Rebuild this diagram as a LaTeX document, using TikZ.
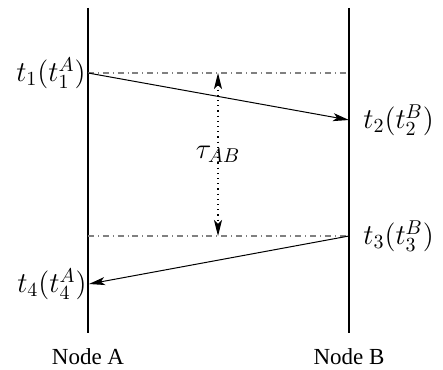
\documentclass[tikz,border=0pt]{standalone}
\usepackage[no-math]{fontspec}
\setmainfont{Liberation Serif}
\usetikzlibrary{arrows.meta,positioning}

\begin{document}
\begin{tikzpicture}[
  x=0.5pt, y=0.5pt,
  lifeline/.style={line width=0.9pt},
  msg/.style={-{Stealth[length=8pt,width=4pt,inset=2pt]}, line width=0.5pt},
  sync/.style={dash dot, gray, line width=0.6pt},
  gap/.style={{Stealth[length=8pt,width=4pt,inset=2pt]}-{Stealth[length=8pt,width=4pt,inset=2pt]},
              dotted, line width=0.6pt},
  stamp/.style={font=\Large, inner sep=1pt},
  host/.style={font=\fontsize{11.5}{13}\selectfont, inner sep=1pt}
]
\useasboundingbox (0,0) rectangle (443,369);
% lifelines
\coordinate (atop) at (88,361);
\coordinate (abot) at (88,36);
\coordinate (btop) at (349,361);
\coordinate (bbot) at (349,36);
\draw[lifeline] (atop) -- (abot);
\draw[lifeline] (btop) -- (bbot);
% time stamps
\coordinate (a1) at (88,296);
\coordinate (b1) at (349,296);
\coordinate (b2) at (349,249);
\coordinate (a3) at (88,133);
\coordinate (b3) at (349,133);
\coordinate (a4) at (89,85);
\node[stamp, anchor=east] (t1) at (a1) {$t_1(t_1^A)$};
\node[stamp, anchor=west, xshift=6pt] (t2) at (b2) {$t_2(t_2^B)$};
\node[stamp, anchor=west, xshift=6pt] (t3) at (b3) {$t_3(t_3^B)$};
\node[stamp, anchor=east] (t4) at (a4) {$t_4(t_4^A)$};
% reference levels
\draw[sync] (a1) -- (b1);
\draw[sync] (a3) -- (b3);
\coordinate (g1) at (218,296);
\coordinate (g3) at (218,133);
\draw[gap] (g1) -- node[stamp] (tau) {$\tau_{AB}$} (g3);
% messages
\draw[msg] (a1) -- (b2);
\draw[msg] (b3) -- (a4);
% hosts
\node[host] (hostA) at (88,12) {Node A};
\node[host] (hostB) at (349,12) {Node B};
\end{tikzpicture}
\end{document}
